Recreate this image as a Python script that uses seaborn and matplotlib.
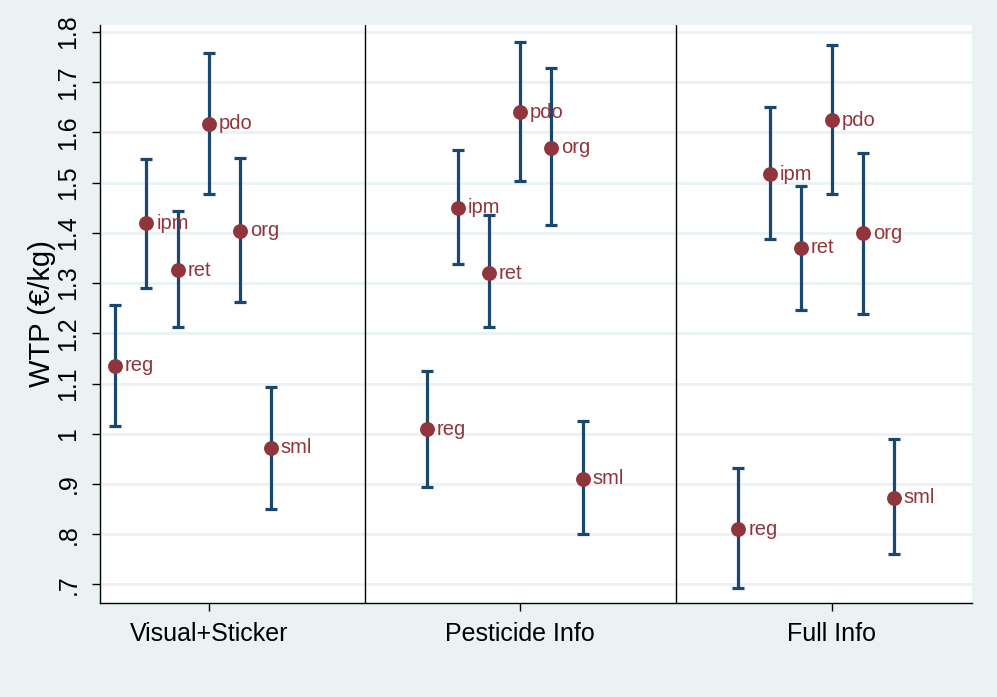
import numpy as np
import pandas as pd
import matplotlib
matplotlib.use("Agg")
import matplotlib.pyplot as plt
import seaborn as sns

# Treatments on the x axis and the six product types in each
treatments = ["Visual+Sticker", "Pesticide Info", "Full Info"]
products = ["reg", "ipm", "ret", "pdo", "org", "sml"]
offsets = [-0.3, -0.2, -0.1, 0.0, 0.1, 0.2]

# WTP means and 95% CI bounds (€/kg), one row per treatment, columns follow `products`
wtp = [
    [1.135, 1.419, 1.326, 1.617, 1.404, 0.972],
    [1.009, 1.450, 1.320, 1.640, 1.570, 0.910],
    [0.810, 1.517, 1.370, 1.624, 1.399, 0.873],
]
ci_low = [
    [1.015, 1.291, 1.213, 1.478, 1.262, 0.850],
    [0.894, 1.338, 1.213, 1.503, 1.415, 0.800],
    [0.693, 1.387, 1.247, 1.478, 1.238, 0.760],
]
ci_high = [
    [1.257, 1.547, 1.444, 1.759, 1.550, 1.094],
    [1.125, 1.566, 1.435, 1.781, 1.728, 1.025],
    [0.932, 1.650, 1.494, 1.775, 1.559, 0.990],
]

y_ticks = [0.7, 0.8, 0.9, 1.0, 1.1, 1.2, 1.3, 1.4, 1.5, 1.6, 1.7, 1.8]
y_tick_labels = [".7", ".8", ".9", "1", "1.1", "1.2", "1.3", "1.4", "1.5", "1.6", "1.7", "1.8"]

rows = []
for i, t in enumerate(treatments):
    for j, p in enumerate(products):
        rows.append({"treatment": t, "product": p, "x": i + 1 + offsets[j],
                     "wtp": wtp[i][j], "lo": ci_low[i][j], "hi": ci_high[i][j]})
df = pd.DataFrame(rows)

bg = "#EAF2F3"
navy = "#1A476F"
maroon = "#90353B"

sns.set_theme(style="white")
plt.rcParams["font.family"] = ["Liberation Sans", "DejaVu Sans"]
plt.rcParams["text.color"] = "black"
plt.rcParams["axes.labelcolor"] = "black"
plt.rcParams["xtick.color"] = "black"
plt.rcParams["ytick.color"] = "black"

fig = plt.figure(figsize=(9.97, 6.97), dpi=100, facecolor=bg)
ax = fig.add_axes([0.1, 0.1349, 0.875, 0.8292])
ax.set_facecolor("white")

for y in y_ticks:
    ax.axhline(y, color=bg, lw=2, zorder=0)
for xs in [1.5, 2.5]:
    ax.axvline(xs, color="black", lw=1, zorder=1)

ax.errorbar(df["x"], df["wtp"], yerr=[df["wtp"] - df["lo"], df["hi"] - df["wtp"]],
            fmt="none", ecolor=navy, elinewidth=2.3, capsize=4.5, capthick=2.3, zorder=2)
sns.scatterplot(data=df, x="x", y="wtp", ax=ax, color=maroon, s=115,
                edgecolor=maroon, linewidth=0, zorder=3, legend=False)
for _, r in df.iterrows():
    ax.annotate(r["product"], (r["x"], r["wtp"]), xytext=(7, 0), textcoords="offset points",
                va="center", ha="left", color=maroon, fontsize=14.5, zorder=4)

ax.set_xlim(0.65, 3.45)
ax.set_ylim(0.663, 1.814)
ax.set_xticks([1, 2, 3])
ax.set_xticklabels(treatments, fontsize=18)
ax.set_yticks(y_ticks)
ax.set_yticklabels(y_tick_labels, fontsize=18, rotation=90, va="center")
ax.set_xlabel("")
ax.set_ylabel("WTP (€/kg)", fontsize=21)
ax.yaxis.set_label_coords(-0.050, 0.5)
ax.tick_params(axis="both", direction="out", length=6, width=1, color="black",
               left=True, bottom=True)
ax.tick_params(axis="y", pad=8)
ax.tick_params(axis="x", pad=8)

for side in ["top", "right"]:
    ax.spines[side].set_visible(False)
for side in ["left", "bottom"]:
    ax.spines[side].set_color("black")
    ax.spines[side].set_linewidth(1)

fig.savefig("out.png", dpi=100, facecolor=bg)
